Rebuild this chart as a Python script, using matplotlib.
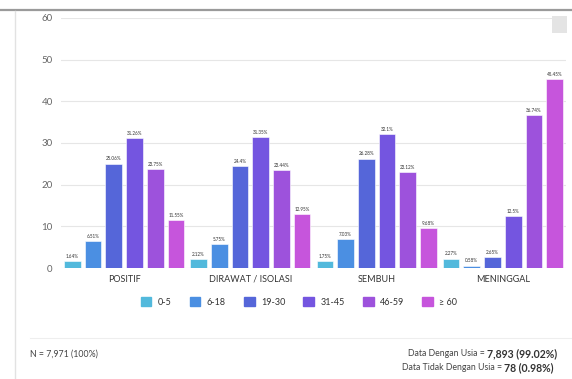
import numpy as np
import matplotlib.pyplot as plt
from matplotlib.patches import Patch, Rectangle
from matplotlib.lines import Line2D

plt.rcParams['font.family'] = ['Lato', 'DejaVu Sans']

categories = ["POSITIF", "DIRAWAT / ISOLASI", "SEMBUH", "MENINGGAL"]
age_groups = ["0-5", "6-18", "19-30", "31-45", "46-59", "\u2265 60"]
colors = ["#52b9dc", "#4b8fe2", "#5566d9", "#7455e0", "#9d52dc", "#c655dc"]

# percentage per age group, one list per category
positif = [1.64, 6.51, 25.06, 31.26, 23.75, 11.55]
dirawat = [2.12, 5.75, 24.40, 31.35, 23.44, 12.95]
sembuh = [1.75, 7.03, 26.28, 32.10, 23.12, 9.68]
meninggal = [2.27, 0.58, 2.65, 12.50, 36.74, 45.45]
values = np.array([positif, dirawat, sembuh, meninggal])


def main():
    W, H = 572, 379
    fig = plt.figure(figsize=(W / 100, H / 100), dpi=100)
    ax = fig.add_axes([61 / W, 1 - 268 / H, 505 / W, 250 / H])

    x = np.arange(len(categories))
    slot = 0.985 / len(age_groups)
    for j, grp in enumerate(age_groups):
        pos = x + (j - 2.5) * slot
        bars = ax.bar(pos, values[:, j], width=slot * 0.8, color=colors[j],
                      edgecolor="white", linewidth=0.4, zorder=3)
        for b, v in zip(bars, values[:, j]):
            ax.text(b.get_x() + b.get_width() / 2, v + 0.5, f"{v:g}%",
                    ha="center", va="bottom", fontsize=3.3, color="#333333")

    ax.set_xlim(-0.5, len(categories) - 0.5)
    ax.set_ylim(0, 60)
    ax.set_yticks(range(0, 61, 10))
    ax.set_xticks(x)
    ax.set_xticklabels(categories, fontsize=6.5, color="#333333")
    ax.tick_params(axis="y", labelsize=7, colors="#666666", length=0, pad=6)
    ax.tick_params(axis="x", length=0, pad=5)
    ax.grid(axis="y", color="#e6e6e6", linewidth=0.8, zorder=0)
    for s in ax.spines.values():
        s.set_visible(False)

    handles = [Patch(facecolor=c, edgecolor=c) for c in colors]
    fig.legend(handles, age_groups, loc="center", ncol=6,
               bbox_to_anchor=(299 / W, 1 - 302 / H), frameon=False,
               fontsize=6.5, handlelength=1.2, handleheight=1.2,
               handletextpad=0.7, columnspacing=2.0, labelcolor="#333333")

    # page decoration
    fig.add_artist(Line2D([0, 1], [1 - 10 / H, 1 - 10 / H], color="#9a9a9a", lw=1.6))
    fig.add_artist(Line2D([15 / W, 15 / W], [0, 1 - 11 / H], color="#e2e2e2", lw=1))
    fig.add_artist(Line2D([30 / W, 1], [1 - 338 / H, 1 - 338 / H], color="#eeeeee", lw=0.8))
    fig.add_artist(Rectangle((552 / W, 1 - 33 / H), 15 / W, 17 / H,
                             facecolor="#e4e4e4", edgecolor="none"))

    fig.text(30 / W, 1 - 354 / H, "N = 7,971 (100%)", fontsize=6.3,
             color="#444444", va="center")
    fig.text(487 / W, 1 - 354 / H, "Data Dengan Usia = ", fontsize=6.3,
             color="#444444", va="center", ha="right")
    fig.text(487 / W, 1 - 354 / H, "7,893 (99.02%)", fontsize=7.6,
             color="#333333", va="center", ha="left", fontweight="bold")
    fig.text(504 / W, 1 - 368 / H, "Data Tidak Dengan Usia = ", fontsize=6.3,
             color="#444444", va="center", ha="right")
    fig.text(504 / W, 1 - 368 / H, "78 (0.98%)", fontsize=7.6,
             color="#333333", va="center", ha="left", fontweight="bold")

    fig.savefig("out.png", dpi=100, facecolor="white")


if __name__ == "__main__":
    main()
